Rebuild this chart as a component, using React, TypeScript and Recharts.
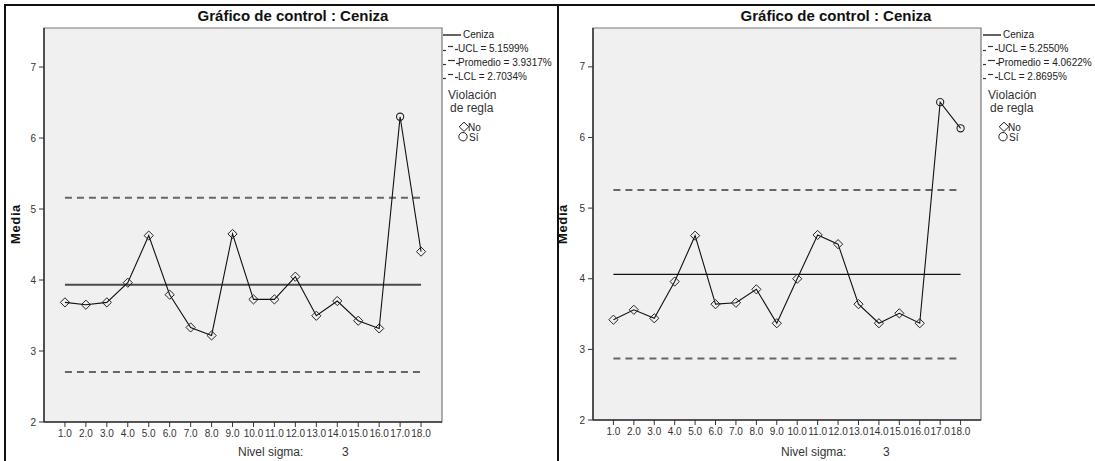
import React from 'react';
import { ComposedChart, Line, XAxis, YAxis, ReferenceArea } from 'recharts';

const samples = [1, 2, 3, 4, 5, 6, 7, 8, 9, 10, 11, 12, 13, 14, 15, 16, 17, 18];
const leftValues = [3.685, 3.652, 3.685, 3.962, 4.626, 3.793, 3.332, 3.219, 4.649, 3.727, 3.727, 4.047, 3.496, 3.704, 3.426, 3.318, 6.30, 4.40];
const rightValues = [3.42, 3.56, 3.44, 3.96, 4.61, 3.64, 3.66, 3.85, 3.37, 4.00, 4.62, 4.49, 3.64, 3.37, 3.51, 3.37, 6.50, 6.13];
const leftLimits = { ucl: 5.1599, mean: 3.9317, lcl: 2.7034 };
const rightLimits = { ucl: 5.255, mean: 4.0622, lcl: 2.8695 };
const yTicks = [2, 3, 4, 5, 6, 7];
const yDomain = [2, 7.55];
const xDomain = [0, 19];
const titleText = 'Gráfico de control : Ceniza';
const seriesName = 'Ceniza';
const yLabel = 'Media';
const sigmaLabel = 'Nivel sigma:';
const sigmaValue = '3';
const ruleTitle = ['Violación', 'de regla'];
const ruleNo = 'No';
const ruleYes = 'Sí';

const FONT = '"Liberation Sans", Arial, sans-serif';

type Limits = { ucl: number; mean: number; lcl: number };

const buildData = (values: number[], lim: Limits) =>
  samples.map((s, i) => ({
    x: s,
    v: values[i],
    ucl: lim.ucl,
    mean: lim.mean,
    lcl: lim.lcl,
    viol: values[i] > lim.ucl || values[i] < lim.lcl,
  }));

const Dot = (props: any) => {
  const { cx, cy, payload, index } = props;
  if (cx == null || cy == null) return <g key={`d${index}`} />;
  if (payload.viol) {
    return <circle key={`d${index}`} cx={cx} cy={cy} r={3.6} fill="none" stroke="#222" strokeWidth={1.1} />;
  }
  const s = 4.6;
  return (
    <path
      key={`d${index}`}
      d={`M${cx},${cy - s}L${cx + s},${cy}L${cx},${cy + s}L${cx - s},${cy}Z`}
      fill="none"
      stroke="#222"
      strokeWidth={1}
    />
  );
};

const DashSym = ({ long }: { long?: boolean }) => (
  <svg width={18} height={10} style={{ position: 'absolute', left: 0, top: 0 }}>
    <line x1={0} x2={3} y1={6.5} y2={6.5} stroke="#333" strokeWidth={1.2} />
    <line x1={5} x2={long ? 12 : 10} y1={2.5} y2={2.5} stroke="#333" strokeWidth={1.2} />
    <line x1={long ? 13 : 12} x2={long ? 16 : 15} y1={5.5} y2={5.5} stroke="#333" strokeWidth={1.2} />
  </svg>
);

const LegendBlock = ({ x, lim }: { x: number; lim: Limits }) => {
  const rows = [
    { y: 35, label: seriesName, kind: 'solid' },
    { y: 49, label: `UCL = ${lim.ucl.toFixed(4)}%`, kind: 'dash' },
    { y: 62.7, label: `Promedio = ${lim.mean.toFixed(4)}%`, kind: 'long' },
    { y: 76.7, label: `LCL = ${lim.lcl.toFixed(4)}%`, kind: 'dash' },
  ];
  return (
    <>
      {rows.map((r) => (
        <div key={r.label} style={{ position: 'absolute', left: x, top: r.y - 6, height: 12, fontSize: 10, lineHeight: '12px', color: '#222', whiteSpace: 'nowrap' }}>
          <div style={{ position: 'absolute', left: 0, top: 1, width: 18, height: 10 }}>
            {r.kind === 'solid' ? (
              <svg width={18} height={10}>
                <line x1={0} x2={18} y1={5} y2={5} stroke="#222" strokeWidth={1.4} />
              </svg>
            ) : (
              <DashSym long={r.kind === 'long'} />
            )}
          </div>
          <span style={{ position: 'absolute', left: r.kind === 'solid' ? 20 : 15 }}>{r.label}</span>
        </div>
      ))}
      <div style={{ position: 'absolute', left: x + 5, top: 89, fontSize: 12, lineHeight: '12px', color: '#333', whiteSpace: 'nowrap' }}>{ruleTitle[0]}</div>
      <div style={{ position: 'absolute', left: x + 7, top: 101.5, fontSize: 12, lineHeight: '12px', color: '#333', whiteSpace: 'nowrap' }}>{ruleTitle[1]}</div>
      <svg width={14} height={22} style={{ position: 'absolute', left: x + 14, top: 121 }}>
        <path d="M7,1.2L11.8,5.8L7,10.4L2.2,5.8Z" fill="none" stroke="#222" strokeWidth={1} />
        <circle cx={6} cy={15.7} r={4.2} fill="none" stroke="#222" strokeWidth={1} />
      </svg>
      <div style={{ position: 'absolute', left: x + 25, top: 122, fontSize: 10, lineHeight: '11px', color: '#222' }}>{ruleNo}</div>
      <div style={{ position: 'absolute', left: x + 26, top: 131.5, fontSize: 10, lineHeight: '11px', color: '#222' }}>{ruleYes}</div>
    </>
  );
};

type PanelProps = {
  left: number;
  width: number;
  margin: { top: number; right: number; bottom: number; left: number };
  values: number[];
  lim: Limits;
  meanStroke: string;
  meanWidth: number;
  titleX: number;
  legendX: number;
  yLabelX: number;
  sigmaX: number;
  sigmaValX: number;
};

const Panel = (p: PanelProps) => {
  const data = buildData(p.values, p.lim);
  return (
    <>
      <div style={{ position: 'absolute', left: p.left, top: 0 }}>
        <ComposedChart width={p.width} height={461} data={data} margin={p.margin}>
          <XAxis
            dataKey="x"
            type="number"
            domain={xDomain}
            ticks={samples}
            interval={0}
            tickFormatter={(v: number) => v.toFixed(1)}
            tick={{ fontSize: 10, fill: '#333', fontFamily: FONT }}
            tickSize={5}
            tickMargin={3}
            axisLine={{ stroke: '#333', strokeWidth: 1.5 }}
            tickLine={{ stroke: '#333' }}
            height={30}
            allowDataOverflow
          />
          <YAxis
            type="number"
            domain={yDomain}
            ticks={yTicks}
            interval={0}
            tick={{ fontSize: 10, fill: '#333', fontFamily: FONT }}
            tickSize={5}
            tickMargin={3}
            axisLine={{ stroke: '#333', strokeWidth: 1.5 }}
            tickLine={{ stroke: '#333' }}
            width={30}
            allowDataOverflow
          />
          <ReferenceArea x1={xDomain[0]} x2={xDomain[1]} y1={yDomain[0]} y2={yDomain[1]} fill="#f0f0f0" fillOpacity={1} stroke="#777" strokeWidth={1.2} ifOverflow="visible" />
          <Line dataKey="ucl" stroke="#666" strokeWidth={2} strokeDasharray="7 5" dot={false} isAnimationActive={false} />
          <Line dataKey="lcl" stroke="#666" strokeWidth={2} strokeDasharray="7 5" dot={false} isAnimationActive={false} />
          <Line dataKey="mean" stroke={p.meanStroke} strokeWidth={p.meanWidth} dot={false} isAnimationActive={false} />
          <Line dataKey="v" stroke="#111" strokeWidth={1.1} dot={Dot} isAnimationActive={false} />
        </ComposedChart>
      </div>
      <div style={{ position: 'absolute', left: p.titleX - 150, width: 300, top: 7, textAlign: 'center', fontSize: 15, fontWeight: 'bold', lineHeight: '18px', color: '#111' }}>{titleText}</div>
      <div style={{ position: 'absolute', left: p.yLabelX - 40, top: 216, width: 80, height: 16, textAlign: 'center', fontSize: 13, fontWeight: 'bold', lineHeight: '16px', letterSpacing: 0.6, transform: 'rotate(-90deg)', color: '#111' }}>{yLabel}</div>
      <div style={{ position: 'absolute', left: p.sigmaX, top: 445, fontSize: 12, lineHeight: '14px', color: '#333', whiteSpace: 'nowrap' }}>{sigmaLabel}</div>
      <div style={{ position: 'absolute', left: p.sigmaValX, top: 445, fontSize: 12, lineHeight: '14px', color: '#333' }}>{sigmaValue}</div>
      <LegendBlock x={p.legendX} lim={p.lim} />
    </>
  );
};

export default function App() {
  return (
    <div style={{ position: 'absolute', left: 0, top: 0, width: 1095, height: 461, background: '#fff', fontFamily: FONT, overflow: 'hidden' }}>
      <Panel
        left={0}
        width={560}
        margin={{ top: 28, right: 118, bottom: 9, left: 14 }}
        values={leftValues}
        lim={leftLimits}
        meanStroke="#4a4a4a"
        meanWidth={2}
        titleX={293}
        legendX={443}
        yLabelX={16}
        sigmaX={238}
        sigmaValX={342}
      />
      <Panel
        left={560}
        width={535}
        margin={{ top: 28, right: 114, bottom: 11, left: 3 }}
        values={rightValues}
        lim={rightLimits}
        meanStroke="#111"
        meanWidth={1.3}
        titleX={836}
        legendX={983}
        yLabelX={563}
        sigmaX={781}
        sigmaValX={883}
      />
      <div style={{ position: 'absolute', left: 4, top: 4, width: 1091, height: 2, background: '#111' }} />
      <div style={{ position: 'absolute', left: 4, top: 4, width: 2, height: 457, background: '#111' }} />
      <div style={{ position: 'absolute', left: 557, top: 4, width: 2, height: 457, background: '#111' }} />
    </div>
  );
}
